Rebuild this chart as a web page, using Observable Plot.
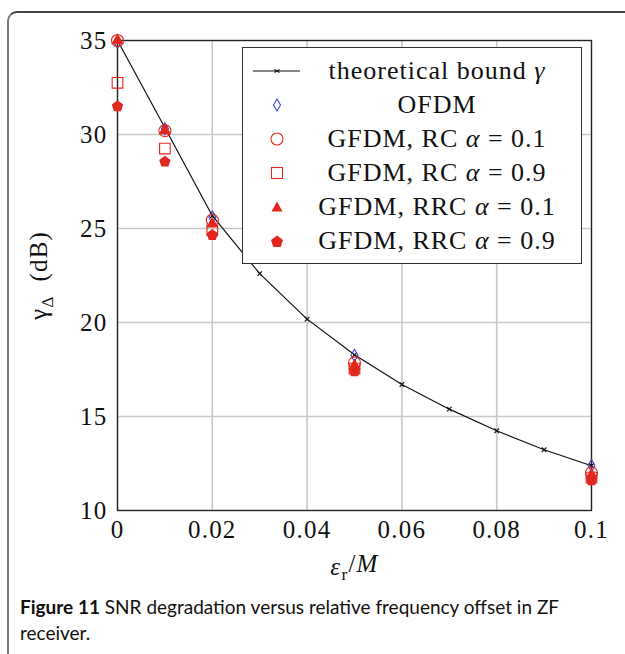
<!DOCTYPE html>
<html><head><meta charset="utf-8">
<script src="https://cdn.jsdelivr.net/npm/d3@7"></script>
<script src="https://cdn.jsdelivr.net/npm/@observablehq/plot@0.6"></script>
<style>
body{margin:0;background:#fff;}
#wrap{position:relative;width:625px;height:654px;overflow:hidden;background:#fff;}
#frame{position:absolute;left:7px;top:11px;width:700px;height:700px;border-left:2px solid #777;border-top:2px solid #444;border-top-left-radius:10px;}
#chart{position:absolute;left:0;top:0;}
#chart svg text{letter-spacing:1.2px;}
#legend{position:absolute;left:242px;top:47px;width:338px;height:215px;background:#fff;border:1.3px solid #333;font-family:"Liberation Serif",serif;font-size:26px;letter-spacing:1px;color:#111;}
.row{position:absolute;left:0;width:338px;height:34px;line-height:34px;}
.sym{position:absolute;left:10px;width:48px;height:34px;}
.lab{position:absolute;left:58px;width:272px;text-align:center;white-space:nowrap;}
.caption{position:absolute;left:20px;top:594px;font-family:Lato,sans-serif;font-size:19px;line-height:26px;color:#111;}
</style></head>
<body>
<div id="wrap">
<div id="frame"></div>
<div id="chart"></div>
<div id="legend"></div>
<div class="caption"><b>Figure 11</b> SNR degradation versus relative frequency offset in ZF<br>receiver.</div>
</div>
<script>
// theoretical bound
const epsBound = [0, 0.01, 0.02, 0.03, 0.04, 0.05, 0.06, 0.07, 0.08, 0.09, 0.1];
const boundDb  = [35, 30.36, 25.68, 22.6, 20.18, 18.28, 16.70, 15.39, 14.24, 13.23, 12.38];
// simulated points
const epsSim = [0, 0.01, 0.02, 0.05, 0.1];
const ofdm   = [34.9, 30.3, 25.6, 18.25, 12.4];
const rc01   = [35.0, 30.2, 25.45, 17.85, 12.0];
const rc09   = [32.75, 29.25, 24.9, 17.55, 11.75];
const rrc01  = [35.0, 30.2, 25.25, 17.7, 11.9];
const rrc09  = [31.5, 28.55, 24.65, 17.4, 11.6];
const xTicks = [0, 0.02, 0.04, 0.06, 0.08, 0.1];
const yTicks = [10, 15, 20, 25, 30, 35];
const seriesNames = ["theoretical bound", "OFDM", "GFDM, RC α = 0.1", "GFDM, RC α = 0.9", "GFDM, RRC α = 0.1", "GFDM, RRC α = 0.9"];

const RED = "#e2281e", BLUE = "#3c46c8";

const pentagon = {
  draw(ctx, size) {
    const R = Math.sqrt(size / 2.378);
    for (let i = 0; i < 5; i++) {
      const a = -Math.PI / 2 + i * 2 * Math.PI / 5;
      const x = R * Math.cos(a), y = R * Math.sin(a);
      if (i === 0) ctx.moveTo(x, y); else ctx.lineTo(x, y);
    }
    ctx.closePath();
  }
};

const bound = epsBound.map((e, i) => ({e, v: boundDb[i]}));
const mk = arr => epsSim.map((e, i) => ({e, v: arr[i]}));

const chart = Plot.plot({
  width: 625, height: 590,
  marginLeft: 117, marginRight: 34, marginTop: 40, marginBottom: 80,
  style: {fontFamily: "Liberation Serif, serif", fontSize: "25px", background: "transparent", overflow: "visible", color: "#111"},
  x: {domain: [0, 0.1], ticks: xTicks, tickFormat: d3.format("~g")},
  y: {domain: [10, 35], ticks: yTicks},
  marks: [
    Plot.gridX(xTicks, {stroke: "#c8c8c8", strokeOpacity: 1, strokeWidth: 1.6}),
    Plot.gridY(yTicks, {stroke: "#c8c8c8", strokeOpacity: 1, strokeWidth: 1.6}),
    Plot.axisX({ticks: xTicks, tickFormat: d3.format("~g"), tickSize: 0, tickPadding: 10, label: "εr/M", labelAnchor: "center", labelOffset: 64, labelArrow: "none"}),
    Plot.axisY({ticks: yTicks, tickSize: 0, tickPadding: 10, label: "γΔ (dB)", labelAnchor: "center", labelOffset: 88, labelArrow: "none"}),
    Plot.frame({stroke: "#222", strokeWidth: 1.3}),
    Plot.line(bound, {x: "e", y: "v", stroke: "#111", strokeWidth: 1.2}),
    Plot.dot(bound, {x: "e", y: "v", symbol: "times", r: 2.2, stroke: "#111", strokeWidth: 1.2}),
    Plot.dot(mk(ofdm), {x: "e", y: "v", symbol: "diamond", r: 3.7, stroke: BLUE, fill: "none", strokeWidth: 1.1}),
    Plot.dot(mk(rc01), {x: "e", y: "v", symbol: "circle", r: 6, stroke: RED, fill: "none", strokeWidth: 1.1}),
    Plot.dot(mk(rc09), {x: "e", y: "v", symbol: "square", r: 6, stroke: RED, fill: "none", strokeWidth: 1.1}),
    Plot.dot(mk(rrc01), {x: "e", y: "v", symbol: "triangle", r: 4.6, fill: RED, stroke: "none"}),
    Plot.dot(mk(rrc09), {x: "e", y: "v", symbol: pentagon, r: 5.2, fill: RED, stroke: "none"})
  ]
});
document.getElementById("chart").appendChild(chart);

// rich axis labels
const yl = d3.select(chart).select('g[aria-label="y-axis label"] text');
yl.text(null);
yl.append("tspan").text("γ");
yl.append("tspan").attr("font-size", "0.7em").attr("dy", "0.35em").text("Δ");
yl.append("tspan").attr("dy", "-0.25em").text("\u2002(dB)");
const xl = d3.select(chart).select('g[aria-label="x-axis label"] text');
xl.text(null);
xl.append("tspan").attr("font-style", "italic").text("ε");
xl.append("tspan").attr("font-size", "0.7em").attr("dy", "0.3em").text("r");
xl.append("tspan").attr("dy", "-0.3em").text("/");
xl.append("tspan").attr("font-style", "italic").text("M");

// legend
const symSvg = [
  `<svg width="48" height="34"><line x1="0" y1="17" x2="47" y2="17" stroke="#111" stroke-width="1.2"/><path d="M21.5,15.5L26.5,18.5M21.5,18.5L26.5,15.5" stroke="#111" stroke-width="1.2"/></svg>`,
  `<svg width="48" height="34"><path d="M24,11L27.5,17L24,23L20.5,17Z" fill="none" stroke="${BLUE}" stroke-width="1.1"/></svg>`,
  `<svg width="48" height="34"><circle cx="24" cy="17" r="6" fill="none" stroke="${RED}" stroke-width="1.1"/></svg>`,
  `<svg width="48" height="34"><rect x="18.5" y="11.5" width="11" height="11" fill="none" stroke="${RED}" stroke-width="1.1"/></svg>`,
  `<svg width="48" height="34"><path d="M24,11.5L29.5,21.5L18.5,21.5Z" fill="${RED}"/></svg>`,
  `<svg width="48" height="34"><path d="M24,11.5L30,15.9L27.7,22.9L20.3,22.9L18,15.9Z" fill="${RED}"/></svg>`
];
const labHtml = seriesNames.map(s => s.replace("α", "<i>α</i>").replace(/ = /, "&nbsp;=&nbsp;"));
labHtml[0] = "theoretical bound <i>γ</i>";
const lg = document.getElementById("legend");
seriesNames.forEach((s, i) => {
  const row = document.createElement("div");
  row.className = "row";
  row.style.top = (6 + 34 * i) + "px";
  row.innerHTML = `<div class="sym">${symSvg[i]}</div><div class="lab">${labHtml[i]}</div>`;
  lg.appendChild(row);
});
</script>
</body></html>
